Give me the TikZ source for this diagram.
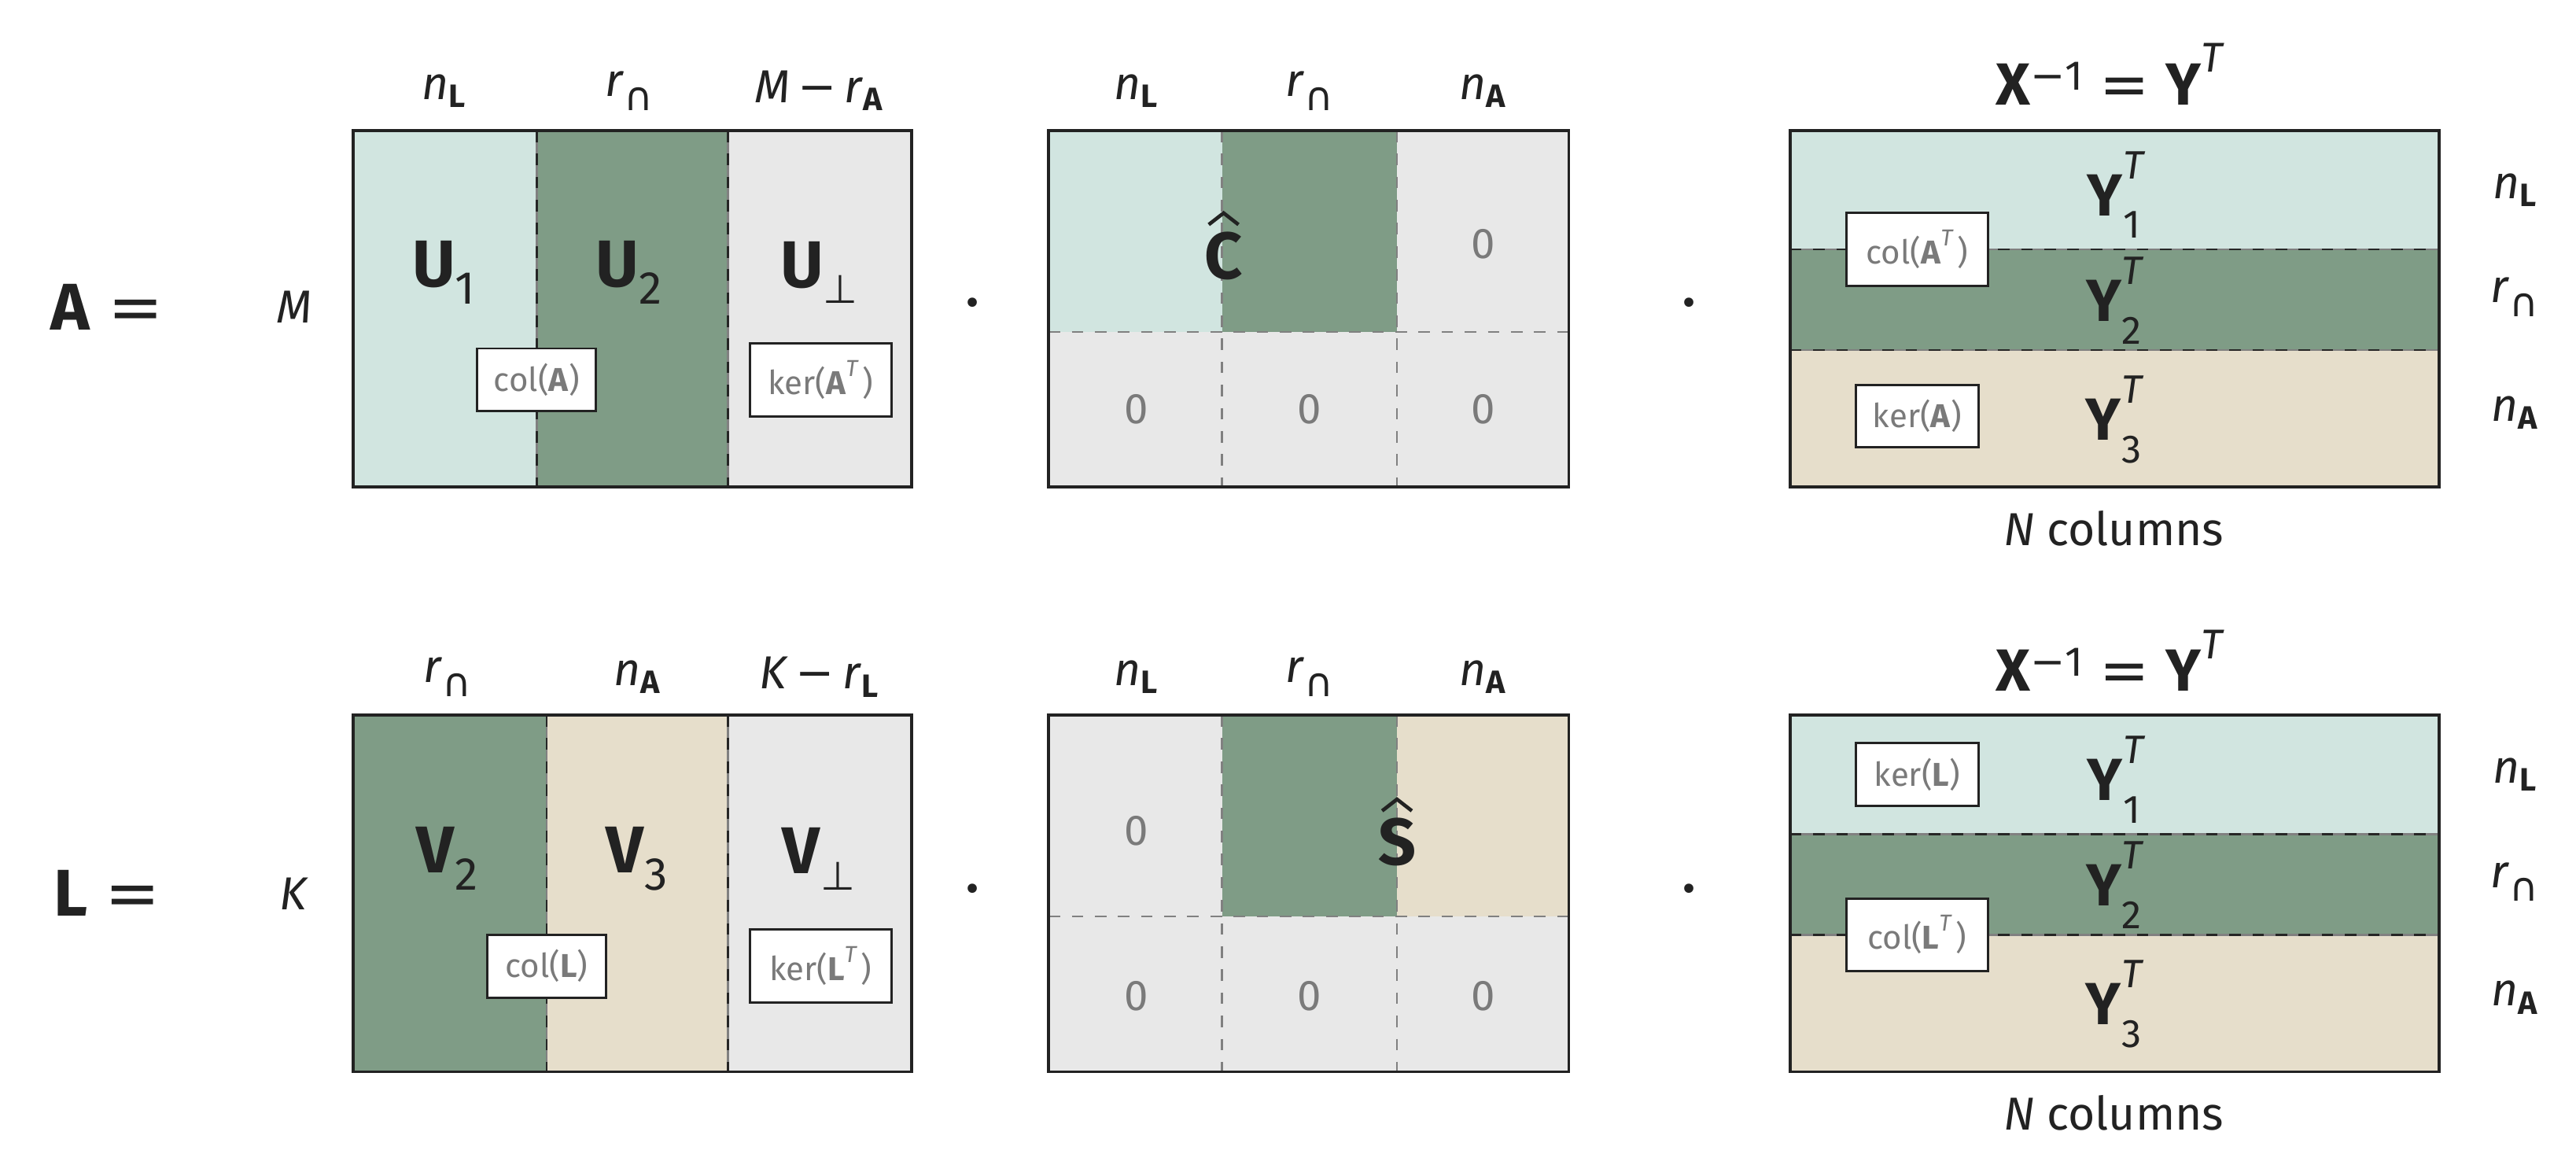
\documentclass[tikz,border=0pt]{standalone}
\usepackage{fontspec}
\setmainfont{Fira Sans}
\newfontfamily\dvs{DejaVu Sans}
\definecolor{lt}{HTML}{D1E5E0}
\definecolor{dg}{HTML}{7F9C86}
\definecolor{gy}{HTML}{E8E8E8}
\definecolor{bg}{HTML}{E6DECB}
\definecolor{tx}{HTML}{222222}
\definecolor{bx}{HTML}{7A7A7A}
\newcommand{\bsub}[1]{\textsubscript{\textbf{#1}}}
\newcommand{\capsym}{\raisebox{-0.3em}{\dvs\fontsize{24}{24}\selectfont ∩}}
\newcommand{\perpsym}{\raisebox{-0.25em}{\dvs\fontsize{24}{24}\selectfont ⊥}}
\newcommand{\mns}{\,{\dvs −}\,}
\newcommand{\supT}{\raisebox{0.55em}{\fontsize{0.7em}{0.7em}\selectfont\textit{T}\,}}
\newcommand{\YT}[1]{\textbf{Y}\rlap{\raisebox{0.62em}{\fontsize{24}{24}\selectfont\textit{T}}}\raisebox{-0.38em}{\fontsize{24}{24}\selectfont #1}}
\begin{document}
\begin{tikzpicture}[x=1pt,y=-1pt,
  lab/.style={text=tx,font=\fontsize{28}{30}\selectfont,inner sep=0},
  big/.style={text=tx,font=\fontsize{40}{42}\selectfont,inner sep=0},
  blk/.style={text=tx,font=\fontsize{36}{38}\selectfont,inner sep=0},
  zero/.style={text=bx,font=\fontsize{26}{28}\selectfont,inner sep=0},
  tag/.style={draw=tx,fill=white,line width=1.4pt,text=bx,font=\fontsize{20}{22}\selectfont,inner sep=0,minimum height=38pt},
  frame/.style={draw=tx,line width=1.8pt},
  sep/.style={draw=black!85,line width=1.3pt,dash pattern=on 7pt off 7pt,
     preaction={draw=gray,line width=1.3pt,solid}},
  sepg/.style={draw=gray,line width=1.2pt,dash pattern=on 7pt off 7pt}]
\useasboundingbox (0,0) rectangle (1560,712);
% ---------- top row ----------
\node[big] (Aeq) at (65,186) {\textbf{A} {\dvs =}};
\node[lab] (M) at (178,186) {\textit{M}};
\fill[lt] (214,79) rectangle (325,295);
\fill[dg] (325,79) rectangle (441,295);
\fill[gy] (441,79) rectangle (552,295);
\draw[sep] (325,79) -- (325,295);
\draw[sep] (441,79) -- (441,295);
\draw[frame] (214,79) rectangle (552,295);
\node[lab] (t1) at (269,55) {\textit{n}\bsub{L}};
\node[lab] (t2) at (381,55) {\textit{r}\capsym};
\node[lab] (t3) at (496,55) {\textit{M}\mns\textit{r}\bsub{A}};
\node[big] (U1) at (269,165) {\textbf{U}\textsubscript{1}};
\node[big] (U2) at (381,165) {\textbf{U}\textsubscript{2}};
\node[big] (Up) at (496,165) {\textbf{U}\perpsym};
\node[tag,minimum width=72pt] (colA) at (325,230) {col(\textbf{A})};
\node[tag,minimum width=86pt,minimum height=44pt] (kerAT) at (497,230) {ker(\textbf{A}\supT)};
\node[big] (d1) at (589,183) {.};
% C matrix
\fill[lt] (635,79) rectangle (740,201);
\fill[dg] (740,79) rectangle (846,201);
\fill[gy] (846,79) rectangle (950,201);
\fill[gy] (635,201) rectangle (950,295);
\draw[sepg] (740,79) -- (740,295);
\draw[sepg] (846,79) -- (846,295);
\draw[sepg] (635,201) -- (950,201);
\draw[frame] (635,79) rectangle (950,295);
\node[lab] (c1) at (688,55) {\textit{n}\bsub{L}};
\node[lab] (c2) at (793,55) {\textit{r}\capsym};
\node[lab] (c3) at (898,55) {\textit{n}\bsub{A}};
\node[big] (Ch) at (741,155) {\textbf{C}};
\draw[tx,line width=2.2pt] (732,136) -- (741,129) -- (750,136);
\node[zero] (z1) at (898,148) {0};
\node[zero] (z2) at (688,248) {0};
\node[zero] (z3) at (793,248) {0};
\node[zero] (z4) at (898,248) {0};
\node[big] (d2) at (1023,183) {.};
% Y matrix
\fill[lt] (1084,79) rectangle (1477,151);
\fill[dg] (1084,151) rectangle (1477,212);
\fill[bg] (1084,212) rectangle (1477,295);
\draw[sep] (1084,151) -- (1477,151);
\draw[sep] (1084,212) -- (1477,212);
\draw[frame] (1084,79) rectangle (1477,295);
\node[blk] (T1) at (1280,45) {\textbf{X}\textsuperscript{{\dvs −}1} {\dvs =} \textbf{Y}\supT};
\node[blk] (Y1) at (1280,118) {\YT{1}};
\node[blk] (Y2) at (1280,182) {\YT{2}};
\node[blk] (Y3) at (1280,254) {\YT{3}};
\node[lab] (N1) at (1280,320) {\textit{N} columns};
\node[lab] (r1) at (1523,115) {\textit{n}\bsub{L}};
\node[lab] (r2) at (1523,180) {\textit{r}\capsym};
\node[lab] (r3) at (1523,250) {\textit{n}\bsub{A}};
\node[tag,minimum width=86pt,minimum height=44pt] (colAT) at (1161,151) {col(\textbf{A}\supT)};
\node[tag,minimum width=74pt] (kerA) at (1161,252) {ker(\textbf{A})};
% ---------- bottom row ----------
\node[big] (Leq) at (65,541) {\textbf{L} {\dvs =}};
\node[lab] (K) at (178,541) {\textit{K}};
\fill[dg] (214,433) rectangle (331,649);
\fill[bg] (331,433) rectangle (441,649);
\fill[gy] (441,433) rectangle (552,649);
\draw[sep] (331,433) -- (331,649);
\draw[sep] (441,433) -- (441,649);
\draw[frame] (214,433) rectangle (552,649);
\node[lab] (b1) at (271,410) {\textit{r}\capsym};
\node[lab] (b2) at (386,410) {\textit{n}\bsub{A}};
\node[lab] (b3) at (496,410) {\textit{K}\mns\textit{r}\bsub{L}};
\node[big] (V2) at (271,520) {\textbf{V}\textsubscript{2}};
\node[big] (V3) at (386,520) {\textbf{V}\textsubscript{3}};
\node[big] (Vp) at (496,520) {\textbf{V}\perpsym};
\node[tag,minimum width=72pt] (colL) at (331,585) {col(\textbf{L})};
\node[tag,minimum width=86pt,minimum height=44pt] (kerLT) at (497,585) {ker(\textbf{L}\supT)};
\node[big] (d3) at (589,538) {.};
% S matrix
\fill[gy] (635,433) rectangle (740,555);
\fill[dg] (740,433) rectangle (846,555);
\fill[bg] (846,433) rectangle (950,555);
\fill[gy] (635,555) rectangle (950,649);
\draw[sepg] (740,433) -- (740,649);
\draw[sepg] (846,433) -- (846,649);
\draw[sepg] (635,555) -- (950,555);
\draw[frame] (635,433) rectangle (950,649);
\node[lab] (s1) at (688,410) {\textit{n}\bsub{L}};
\node[lab] (s2) at (793,410) {\textit{r}\capsym};
\node[lab] (s3) at (898,410) {\textit{n}\bsub{A}};
\node[big] (Sh) at (846,510) {\textbf{S}};
\draw[tx,line width=2.2pt] (837,491) -- (846,484) -- (855,491);
\node[zero] (w1) at (688,503) {0};
\node[zero] (w2) at (688,603) {0};
\node[zero] (w3) at (793,603) {0};
\node[zero] (w4) at (898,603) {0};
\node[big] (d4) at (1023,538) {.};
% Y matrix bottom
\fill[lt] (1084,433) rectangle (1477,505);
\fill[dg] (1084,505) rectangle (1477,566);
\fill[bg] (1084,566) rectangle (1477,649);
\draw[sep] (1084,505) -- (1477,505);
\draw[sep] (1084,566) -- (1477,566);
\draw[frame] (1084,433) rectangle (1477,649);
\node[blk] (T2) at (1280,400) {\textbf{X}\textsuperscript{{\dvs −}1} {\dvs =} \textbf{Y}\supT};
\node[blk] (Y4) at (1280,472) {\YT{1}};
\node[blk] (Y5) at (1280,536) {\YT{2}};
\node[blk] (Y6) at (1280,608) {\YT{3}};
\node[lab] (N2) at (1280,674) {\textit{N} columns};
\node[lab] (q1) at (1523,469) {\textit{n}\bsub{L}};
\node[lab] (q2) at (1523,534) {\textit{r}\capsym};
\node[lab] (q3) at (1523,604) {\textit{n}\bsub{A}};
\node[tag,minimum width=74pt] (kerL) at (1161,469) {ker(\textbf{L})};
\node[tag,minimum width=86pt,minimum height=44pt] (colLT) at (1161,566) {col(\textbf{L}\supT)};
\end{tikzpicture}
\end{document}
